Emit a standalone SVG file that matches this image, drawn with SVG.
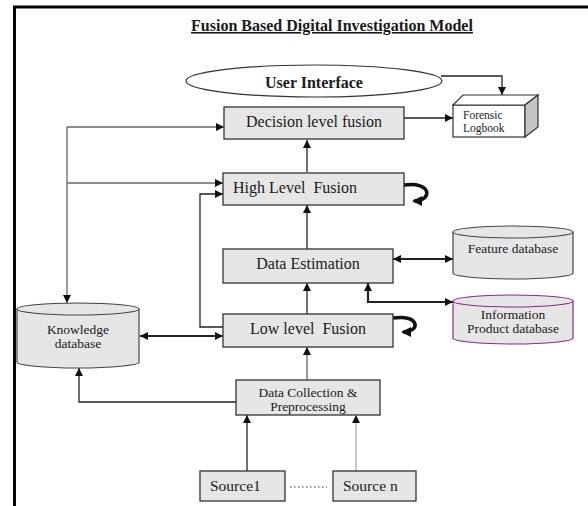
<svg xmlns="http://www.w3.org/2000/svg" width="588" height="506" viewBox="0 0 588 506">
<style>
text{font-family:"Liberation Serif","Times New Roman",serif;fill:#1a1a1a}
.box{fill:#e6e6e6;stroke:#333;stroke-width:1.3}
.db{fill:#e6e6e6;stroke:#444;stroke-width:1.2}
.dbp{fill:#e6e6e6;stroke:#8a2a8a;stroke-width:1.2}
.c{fill:none;stroke:#222;stroke-width:1.3}
.g{fill:none;stroke:#666;stroke-width:1.3}
.t{fill:none;stroke:#222;stroke-width:2.2}
.loop{fill:none;stroke:#111;stroke-width:3.5}
</style>
<defs>
<marker id="a" viewBox="0 0 10 10" refX="10" refY="5" markerWidth="8" markerHeight="8" markerUnits="userSpaceOnUse" orient="auto-start-reverse"><path d="M0 0L10 5L0 10z" fill="#111"/></marker>
<marker id="ag" viewBox="0 0 10 10" refX="10" refY="5" markerWidth="8" markerHeight="8" markerUnits="userSpaceOnUse" orient="auto-start-reverse"><path d="M0 0L10 5L0 10z" fill="#111"/></marker>
<marker id="al" viewBox="0 0 10 10" refX="8" refY="5" markerWidth="10" markerHeight="10" markerUnits="userSpaceOnUse" orient="auto"><path d="M0 0L10 5L0 10z" fill="#111"/></marker>
</defs>

<g id="frame">
<line x1="14.5" y1="6" x2="14.5" y2="506" stroke="#000" stroke-width="3"/>
<line x1="13" y1="7" x2="588" y2="7" stroke="#000" stroke-width="3"/>
</g>

<g id="title">
<text x="332" y="31" text-anchor="middle" font-size="16" font-weight="bold" text-decoration="underline">Fusion Based Digital Investigation Model</text>
</g>

<g id="connectors">
<path class="c" d="M441 76H502V95" marker-end="url(#a)"/>
<path class="c" d="M404 118H453" marker-end="url(#a)"/>
<path class="c" d="M307 172V140" marker-end="url(#a)"/>
<path class="c" d="M307 249V205" marker-end="url(#a)"/>
<path class="c" d="M307 314V283" marker-end="url(#a)"/>
<path class="g" d="M307 380V347" marker-end="url(#a)"/>
<path class="g" d="M67 127V303" marker-end="url(#ag)"/>
<path class="g" d="M67 127H224" marker-end="url(#ag)"/>
<path class="g" d="M67 183H223" marker-end="url(#ag)"/>
<path class="c" d="M223 327H200V194H223" marker-end="url(#a)"/>
<path class="t" d="M140 336H223" marker-start="url(#a)" marker-end="url(#a)"/>
<path class="c" d="M236 402H79V368" marker-end="url(#a)"/>
<path class="t" d="M393 259H453" marker-start="url(#a)" marker-end="url(#a)"/>
<path class="t" d="M453 302H368V283" marker-start="url(#a)" marker-end="url(#a)"/>
<path class="c" d="M247 471V415" marker-end="url(#a)"/>
<path fill="none" stroke="#aaa" stroke-width="1.3" d="M356 471V415" marker-end="url(#a)"/>
<path fill="none" stroke="#333" stroke-width="1" stroke-dasharray="1.5 2.5" d="M290 487H327"/>
<path class="loop" d="M404 185C432 181 433 201 414 201" marker-end="url(#al)"/>
<path class="loop" d="M393 318C420 314 421 332 403 332" marker-end="url(#al)"/>
</g>

<g id="user-interface">
<ellipse cx="314" cy="81" rx="128" ry="16" fill="#fff" stroke="#333" stroke-width="1.2"/>
<text x="314" y="88" text-anchor="middle" font-size="16" font-weight="bold">User Interface</text>
</g>

<g id="decision">
<rect class="box" x="224" y="107" width="180" height="32"/>
<text x="314" y="127" text-anchor="middle" font-size="16">Decision level fusion</text>
</g>

<g id="logbook">
<rect x="453" y="105" width="72" height="32" fill="#fff" stroke="#333" stroke-width="1.2"/>
<polygon points="453,105 463,95 538,95 525,105" fill="#fff" stroke="#333" stroke-width="1.2"/>
<polygon points="525,105 538,95 538,127 525,137" fill="#c4c4c4" stroke="#333" stroke-width="1.2"/>
<text x="463" y="119" font-size="11.5">Forensic</text>
<text x="463" y="132" font-size="11.5">Logbook</text>
</g>

<g id="high-level">
<rect class="box" x="223" y="173" width="181" height="32"/>
<text x="233" y="193" font-size="16" xml:space="preserve">High Level  Fusion</text>
</g>

<g id="data-estimation">
<rect class="box" x="223" y="249" width="170" height="34"/>
<text x="308" y="269" text-anchor="middle" font-size="16">Data Estimation</text>
</g>

<g id="low-level">
<rect class="box" x="223" y="314" width="170" height="33"/>
<text x="308" y="334" text-anchor="middle" font-size="16" xml:space="preserve">Low level  Fusion</text>
</g>

<g id="feature-db">
<path class="db" d="M453 232V273A60 6 0 0 0 573 273V232"/>
<ellipse class="db" cx="513" cy="232" rx="60" ry="6"/>
<text x="513" y="253" text-anchor="middle" font-size="13.5">Feature database</text>
</g>

<g id="info-db">
<path class="dbp" d="M453 301V338A60 6 0 0 0 573 338V301"/>
<ellipse class="dbp" cx="513" cy="301" rx="60" ry="6"/>
<text x="513" y="319" text-anchor="middle" font-size="13.5">Information</text>
<text x="513" y="333" text-anchor="middle" font-size="13.5">Product database</text>
</g>

<g id="knowledge-db">
<path class="db" d="M17 309V362A61 6 0 0 0 139 362V309"/>
<ellipse class="db" cx="78" cy="309" rx="61" ry="6"/>
<text x="78" y="334" text-anchor="middle" font-size="13.5">Knowledge</text>
<text x="78" y="348" text-anchor="middle" font-size="13.5">database</text>
</g>

<g id="data-collection">
<rect class="box" x="236" y="380" width="144" height="35"/>
<text x="308" y="397" text-anchor="middle" font-size="13.5">Data Collection &amp;</text>
<text x="308" y="411" text-anchor="middle" font-size="13.5">Preprocessing</text>
</g>

<g id="source1">
<rect class="box" x="200" y="471" width="85" height="30"/>
<text x="210" y="491" font-size="15.5">Source1</text>
</g>

<g id="source-n">
<rect class="box" x="333" y="471" width="83" height="30"/>
<text x="343" y="491" font-size="15.5">Source n</text>
</g>
</svg>
